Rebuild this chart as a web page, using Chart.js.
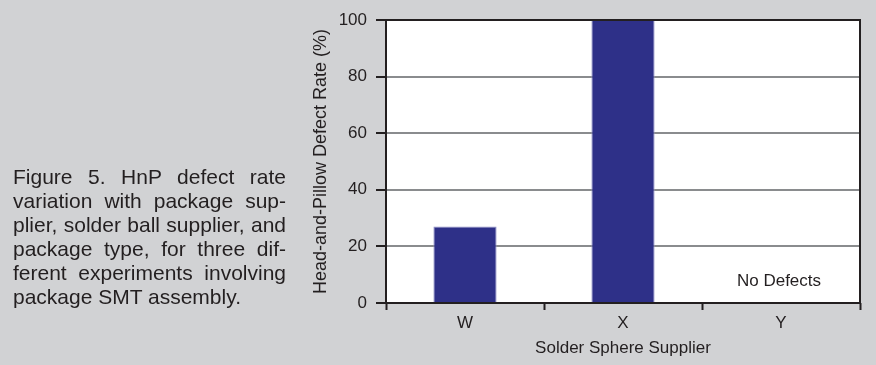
<!DOCTYPE html>
<html>
<head>
<meta charset="utf-8">
<script src="https://cdn.jsdelivr.net/npm/chart.js@4"></script>
<style>
  html, body { margin: 0; padding: 0; background: #d1d2d4; }
  #wrap { position: relative; width: 876px; height: 365px; overflow: hidden; }
  #chart { position: absolute; left: 0; top: 0; }
  #caption {
    position: absolute; left: 13px; top: 165px; width: 273px;
    font-family: "Liberation Sans", Arial, sans-serif; font-size: 21px; line-height: 24px;
    color: #231f20;
  }
  #caption div { white-space: nowrap; text-align: justify; text-align-last: justify; }
  #caption div.last { text-align-last: left; }
</style>
</head>
<body>
<div id="wrap">
  <canvas id="chart" width="876" height="365"></canvas>
  <div id="caption">
    <div>Figure 5. HnP defect rate</div>
    <div>variation with package sup-</div>
    <div>plier, solder ball supplier, and</div>
    <div>package type, for three dif-</div>
    <div>ferent experiments involving</div>
    <div class="last">package SMT assembly.</div>
  </div>
</div>
<script>
// dados
const suppliers = ['W', 'X', 'Y'];
const defectRate = [27, 100, 0];
const yMin = 0, yMax = 100, yStep = 20;
const noDefectsNote = 'No Defects';
const noDefectsAt = { category: 'Y', value: 7.5 };

const ink = '#231f20';
const font = 'Liberation Sans, Arial, sans-serif';

// fundo branco, moldura preta à volta da área do gráfico + nota "No Defects"
const framePlugin = {
  id: 'frame',
  beforeDraw(chart) {
    const { ctx, chartArea: a } = chart;
    ctx.save();
    ctx.fillStyle = '#ffffff';
    ctx.fillRect(a.left, a.top, a.right - a.left, a.bottom - a.top);
    ctx.restore();
  },
  afterDraw(chart) {
    const { ctx, chartArea: a, scales } = chart;
    ctx.save();
    ctx.strokeStyle = ink;
    ctx.lineWidth = 2;
    ctx.strokeRect(a.left, a.top, a.right - a.left, a.bottom - a.top);
    ctx.fillStyle = ink;
    ctx.font = '17px ' + font;
    ctx.textAlign = 'center';
    ctx.textBaseline = 'middle';
    ctx.fillText(noDefectsNote,
      scales.x.getPixelForValue(suppliers.indexOf(noDefectsAt.category)) - 2,
      scales.y.getPixelForValue(noDefectsAt.value));
    ctx.restore();
  }
};

new Chart(document.getElementById('chart'), {
  type: 'bar',
  data: {
    labels: suppliers,
    datasets: [{
      data: defectRate,
      backgroundColor: '#2e3088',
      borderColor: '#8f90c8',
      borderWidth: { left: 1, right: 1, top: 1, bottom: 0 },
      categoryPercentage: 1,
      barPercentage: 0.4
    }]
  },
  options: {
    responsive: false,
    animation: false,
    layout: { padding: { left: 300, right: 16, top: 20, bottom: 0 } },
    plugins: { legend: { display: false }, tooltip: { enabled: false } },
    scales: {
      y: {
        min: yMin, max: yMax,
        ticks: { stepSize: yStep, padding: 9, color: ink, font: { family: font, size: 17 } },
        grid: { color: '#8a8c8e', lineWidth: 2, tickColor: ink, tickWidth: 2, tickLength: 10 },
        border: { display: false },
        title: {
          display: true, text: 'Head-and-Pillow Defect Rate (%)', color: ink,
          font: { family: font, size: 18 }, padding: { top: 10, bottom: 0 }
        },
        afterFit(scale) { scale.width = 86; }
      },
      x: {
        offset: true,
        ticks: { padding: 3, color: ink, font: { family: font, size: 17 } },
        grid: { offset: true, drawOnChartArea: false, tickColor: ink, tickWidth: 2, tickLength: 7 },
        border: { display: false },
        title: {
          display: true, text: 'Solder Sphere Supplier', color: ink,
          font: { family: font, size: 17 }, padding: { top: 0, bottom: 6 }
        },
        afterFit(scale) { scale.height = 62; }
      }
    }
  },
  plugins: [framePlugin]
});
</script>
</body>
</html>
